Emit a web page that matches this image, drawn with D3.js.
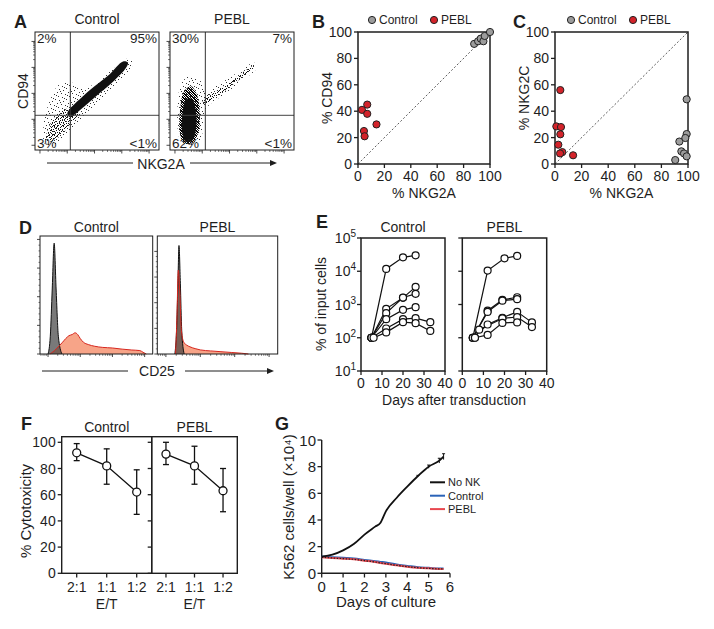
<!DOCTYPE html>
<html><head><meta charset="utf-8">
<script src="https://cdn.jsdelivr.net/npm/d3@7"></script>
<style>
body{margin:0;background:#fff}
svg{display:block}
text{font-family:"Liberation Sans",Arial,Helvetica,sans-serif;fill:#1e1e1e}
</style>
</head><body>
<svg id="fig" width="714" height="629"></svg>
<script>
// ================= DATA =================
const groups = ["Control", "PEBL"];
// Panel A: quadrant percentages (UL, UR, LL, LR)
const quadControl = ["2%", "95%", "3%", "<1%"];
const quadPEBL = ["30%", "7%", "62%", "<1%"];
const flowGate = [0.285, 0.294];               // gate thresholds (fraction of log channel)
// density outlines (fraction of log-channel range)
const flowCtrlHalo = [[0.08,0.05],[0.15,0.04],[0.24,0.1],[0.32,0.2],[0.42,0.32],[0.56,0.45],[0.7,0.6],[0.79,0.73],[0.76,0.78],[0.66,0.71],[0.52,0.6],[0.4,0.52],[0.3,0.57],[0.2,0.56],[0.12,0.42],[0.07,0.22]];
const flowCtrlMid = [[0.09,0.1],[0.14,0.07],[0.22,0.14],[0.3,0.24],[0.35,0.31],[0.3,0.36],[0.22,0.33],[0.14,0.25],[0.1,0.16]];
const flowCtrlCore = [[0.28,0.28],[0.4,0.37],[0.52,0.48],[0.64,0.59],[0.73,0.69],[0.75,0.74],[0.71,0.75],[0.6,0.64],[0.48,0.54],[0.38,0.45],[0.3,0.37],[0.26,0.31]];
const flowPeblHalo = [[0.07,0.12],[0.1,0.05],[0.18,0.04],[0.25,0.1],[0.27,0.25],[0.3,0.36],[0.45,0.48],[0.6,0.6],[0.7,0.7],[0.68,0.74],[0.55,0.66],[0.4,0.56],[0.28,0.5],[0.25,0.58],[0.16,0.63],[0.09,0.56],[0.06,0.35]];
const flowPeblMid = [[0.08,0.14],[0.11,0.06],[0.18,0.06],[0.23,0.15],[0.24,0.3],[0.22,0.46],[0.17,0.54],[0.11,0.49],[0.08,0.32]];
const flowPeblCore = [[0.1,0.14],[0.13,0.07],[0.18,0.08],[0.21,0.18],[0.21,0.32],[0.18,0.43],[0.13,0.43],[0.1,0.3]];
const flowPeblStream = [[0.27,0.39],[0.4,0.47],[0.54,0.58],[0.67,0.69],[0.68,0.72],[0.55,0.63],[0.41,0.52],[0.27,0.44]];
const flowDecades = [0.04, 0.26, 0.48, 0.70, 0.92];

// Panels B & C
const pctTicks = [0, 20, 40, 60, 80, 100];
const bControl = [[88,91],[91,93],[93,95],[95,93],[96,97],[100,100]];
const bPEBL = [[3,41],[7,45],[7,38],[4.5,25],[5,21],[14,30]];
const cControl = [[99,49],[93.5,17],[99,22.7],[98,19.7],[95,9.6],[97,8],[90.4,3],[99,5.8]];
const cPEBL = [[4,56],[1,28.5],[4.5,28],[4,22.5],[2.5,14.6],[5.5,9],[3.8,8],[13.6,6.6]];

// Panel D: histograms [log10 CD25, events]
const dLogTicks = [2, 3, 4, 5];
const dCtrlYMax = 412, dPeblYMax = 460, dCountTicks = [0, 100, 200, 300, 400];
const histCtrlIso = [[2.0,0],[2.07,62],[2.13,227],[2.19,387],[2.25,227],[2.32,62],[2.43,0]];
const histCtrlCD25 = [[2.06,0],[2.2,12],[2.35,29],[2.45,41],[2.55,54],[2.65,64],[2.75,68],[2.84,74],[2.92,68],[3.0,54],[3.1,41],[3.25,33],[3.45,27],[3.7,23],[4.0,21],[4.3,17],[4.6,14],[4.85,12],[4.95,6],[5.05,0]];
const histPeblIso = [[2.26,0],[2.31,92],[2.35,276],[2.38,423],[2.42,276],[2.46,92],[2.53,0]];
const histPeblCD25 = [[2.28,0],[2.32,138],[2.36,327],[2.4,253],[2.45,92],[2.52,46],[2.6,35],[2.7,28],[2.85,21],[3.0,16],[3.3,12],[3.6,9],[3.9,6],[4.2,3],[4.4,0]];

// Panel E: % of input cells vs days
const eDayTicks = [0, 10, 20, 30, 40];
const eExpTicks = [1, 2, 3, 4, 5];
const eControl = [
  [[5,100],[12,11750],[20,26300],[26,30200]],
  [[5,100],[12,740],[20,1585],[26,3390]],
  [[5,100],[12,550],[20,1620],[26,2090]],
  [[5,100],[12,363],[20,690],[26,830]],
  [[5,100],[12,190],[20,363],[26,389],[33,295]],
  [[6,100],[12,145],[20,295],[26,275],[33,160]]
];
const ePEBL = [
  [[5,100],[12,10500],[20,24500],[26,29000]],
  [[5,100],[12,650],[19,1380],[26,1650]],
  [[5,100],[12,600],[19,1300],[26,1450]],
  [[5,100],[12,250],[19,400],[26,600],[33,290]],
  [[6,100],[8,175],[19,380],[26,420],[33,210]],
  [[6,100],[12,122],[19,280],[26,290]]
];

// Panel F: cytotoxicity
const fRatios = ["2:1", "1:1", "1:2"];
const fCtrlMean = [92, 82, 62], fCtrlLo = [86, 68, 45], fCtrlHi = [99, 95, 79];
const fPeblMean = [91, 82, 63], fPeblLo = [83, 68, 47], fPeblHi = [100, 97, 80];
const fYTicks = [0, 20, 40, 60, 80, 100];

// Panel G: K562 growth
const gDays = [0,0.5,1,1.5,2,2.5,2.75,3,3.5,4,4.5,5,5.5,5.7];
const gNoNK = [1.25,1.4,1.72,2.2,2.9,3.5,3.8,4.65,5.65,6.5,7.3,8.0,8.45,8.75];
const gNoNKErr = [0,0,0,0,0,0,0,0,0,0,0.05,0.12,0.18,0.22];
const gControl = [1.25,1.2,1.15,1.1,1.0,0.9,0.85,0.8,0.65,0.55,0.45,0.4,0.35,0.35];
const gPEBL = [1.2,1.15,1.1,1.05,0.95,0.85,0.78,0.72,0.6,0.5,0.42,0.37,0.33,0.33];
const gXTicks = [0,1,2,3,4,5,6];
const gYTicks = [0,2,4,6,8,10];
const gLegend = ["No NK", "Control", "PEBL"];
const gColors = ["#111111", "#2a63b8", "#e8474f"];

// ================= DRAWING =================
const svg = d3.select("#fig");
svg.append("rect").attr("width", 714).attr("height", 629).attr("fill", "#fff");
const defs = svg.append("defs");
const INK = "#1e1e1e";

function txt(x, y, s, o = {}) {
  const t = svg.append("text").attr("x", x).attr("y", y).text(s)
    .attr("font-size", o.size || 14).attr("text-anchor", o.anchor || "start")
    .attr("font-weight", o.weight || "normal");
  if (o.rotate) t.attr("transform", `rotate(${o.rotate},${x},${y})`);
  return t;
}
function letter(x, y, s) { txt(x, y, s, { size: 18, weight: "bold" }); }
function seg(x1, y1, x2, y2, w = 1, c = INK, dash = null) {
  const l = svg.append("line").attr("x1", x1).attr("y1", y1).attr("x2", x2).attr("y2", y2)
    .attr("stroke", c).attr("stroke-width", w);
  if (dash) l.attr("stroke-dasharray", dash);
  return l;
}
function arrowLine(x1, x2, y) {
  seg(x1, y, x2 - 5, y, 1);
  svg.append("path").attr("d", `M${x2},${y}L${x2 - 7},${y - 3}L${x2 - 7},${y + 3}Z`).attr("fill", INK);
}
function pattern(id, size, dots, color) {
  const p = defs.append("pattern").attr("id", id).attr("patternUnits", "userSpaceOnUse")
    .attr("width", size).attr("height", size);
  dots.forEach(([x, y]) => p.append("rect").attr("x", x).attr("y", y).attr("width", 1).attr("height", 1).attr("fill", color));
}
// texture tiles (stippling style)
pattern("sparse", 11, [[0,0],[4,1],[8,2],[2,4],[6,5],[10,6],[3,8],[7,9],[9,10],[5,3],[1,7]], "#333");
pattern("medium", 9, [[0,0],[3,0],[6,1],[1,2],[4,2],[8,3],[2,4],[5,4],[7,5],[0,5],[3,6],[6,7],[1,7],[8,8],[4,8],[2,1],[7,0],[5,6],[0,8],[6,3]], "#111");
pattern("dense", 5, [[0,0],[1,0],[3,0],[1,1],[2,1],[4,1],[0,2],[2,2],[3,2],[1,3],[3,3],[4,3],[0,4],[2,4],[4,4]], "#000");

// ---------- Panel A ----------
letter(14, 28, "A");
function flowPanel(x0, title, layers, quads) {
  const W = 124, H = 118, y0 = 32;
  const xs = d3.scaleLinear([0, 1], [x0, x0 + W]);
  const ys = d3.scaleLinear([0, 1], [y0 + H, y0]);
  const cid = "clipA" + x0;
  defs.append("clipPath").attr("id", cid).append("rect").attr("x", x0).attr("y", y0).attr("width", W).attr("height", H);
  const g = svg.append("g").attr("clip-path", `url(#${cid})`);
  const line = d3.line().x(d => xs(d[0])).y(d => ys(d[1])).curve(d3.curveCatmullRomClosed.alpha(0.5));
  layers.forEach(([pts, fill]) => g.append("path").attr("d", line(pts)).attr("fill", fill));
  g.append("line").attr("x1", xs(flowGate[0])).attr("x2", xs(flowGate[0])).attr("y1", y0).attr("y2", y0 + H).attr("stroke", "#333").attr("stroke-width", 1);
  g.append("line").attr("y1", ys(flowGate[1])).attr("y2", ys(flowGate[1])).attr("x1", x0).attr("x2", x0 + W).attr("stroke", "#444").attr("stroke-width", 1);
  svg.append("rect").attr("x", x0).attr("y", y0).attr("width", W).attr("height", H).attr("fill", "none").attr("stroke", INK).attr("stroke-width", 1);
  flowDecades.forEach((p, i) => {
    seg(x0 - 3.5, ys(p), x0, ys(p), 0.8); seg(xs(p), y0 + H, xs(p), y0 + H + 3.5, 0.8);
    if (i < flowDecades.length - 1) {
      d3.range(2, 10).forEach(k => {
        const q = p + Math.log10(k) * 0.22;
        seg(x0 - 2, ys(q), x0, ys(q), 0.6); seg(xs(q), y0 + H, xs(q), y0 + H + 2, 0.6);
      });
    }
  });
  txt(x0 + W / 2, 24, title, { anchor: "middle" });
  txt(x0 + 2, 43, quads[0], { size: 13.5 });
  txt(x0 + W - 2, 43, quads[1], { size: 13.5, anchor: "end" });
  txt(x0 + 2, 148, quads[2], { size: 13.5 });
  txt(x0 + W - 2, 148, quads[3], { size: 13.5, anchor: "end" });
}
flowPanel(35, groups[0], [[flowCtrlHalo, "url(#sparse)"], [flowCtrlMid, "url(#medium)"], [flowCtrlCore, "#111"]], quadControl);
flowPanel(170, groups[1], [[flowPeblHalo, "url(#sparse)"], [flowPeblStream, "url(#medium)"], [flowPeblMid, "url(#dense)"], [flowPeblCore, "#111"]], quadPEBL);
txt(28, 91, "CD94", { rotate: -90, anchor: "middle" });
seg(47, 163, 133, 163, 1);
txt(161, 168.5, "NKG2A", { anchor: "middle" });
arrowLine(190, 277, 163);

// ---------- Panels B & C ----------
function scatterPanel(x0, x1, yLab, ctrl, pebl) {
  const xs = d3.scaleLinear([0, 100], [x0, x1]);
  const ys = d3.scaleLinear([0, 100], [164, 32]);
  const g = svg.append("g");
  g.append("line").attr("x1", xs(0)).attr("y1", ys(0)).attr("x2", xs(100)).attr("y2", ys(100))
    .attr("stroke", "#333").attr("stroke-width", 0.8).attr("stroke-dasharray", "2,2");
  g.append("rect").attr("x", x0).attr("y", 32).attr("width", x1 - x0).attr("height", 132)
    .attr("fill", "none").attr("stroke", INK).attr("stroke-width", 1.5);
  pctTicks.forEach(v => {
    seg(x0 - 4, ys(v), x0, ys(v), 1.3);
    seg(xs(v), 164, xs(v), 168, 1.3);
    txt(x0 - 6, ys(v) + 5, v, { anchor: "end" });
    txt(xs(v), 180.5, v, { anchor: "middle" });
  });
  const dots = (pts, fill) => g.selectAll(null).data(pts).enter().append("circle")
    .attr("cx", d => xs(d[0])).attr("cy", d => ys(d[1])).attr("r", 3.6)
    .attr("fill", fill).attr("stroke", "#222").attr("stroke-width", 1);
  dots(ctrl, "#9c9c9c");
  dots(pebl, "#d3232a");
  txt((x0 + x1) / 2, 197.5, "% NKG2A", { anchor: "middle" });
  txt(x0 - 26, 98, yLab, { rotate: -90, anchor: "middle" });
}
function scatterLegend(x) {
  svg.append("circle").attr("cx", x).attr("cy", 20).attr("r", 3.6).attr("fill", "#9c9c9c").attr("stroke", "#222");
  txt(x + 7, 24, groups[0], { size: 12 });
  svg.append("circle").attr("cx", x + 62).attr("cy", 20).attr("r", 3.6).attr("fill", "#d3232a").attr("stroke", "#222");
  txt(x + 69, 24, groups[1], { size: 12 });
}
letter(312, 28, "B");
scatterPanel(358, 490, "% CD94", bControl, bPEBL);
scatterLegend(372);
letter(513, 28, "C");
scatterPanel(555, 688, "% NKG2C", cControl, cPEBL);
scatterLegend(571);

// ---------- Panel D ----------
letter(19, 234, "D");
function histPanel(x0, x1, title, iso, cd25, yMax) {
  const y0 = 236, y1 = 354;
  const xs = d3.scaleLinear([1.75, 5.25], [x0, x1]);
  const ys = d3.scaleLinear([0, yMax], [y1, y0]);
  const area = d3.area().x(d => xs(d[0])).y0(y1).y1(d => ys(d[1])).curve(d3.curveMonotoneX);
  const line = d3.line().x(d => xs(d[0])).y(d => ys(d[1])).curve(d3.curveMonotoneX);
  svg.append("path").attr("d", area(cd25)).attr("fill", "#f7a488");
  svg.append("path").attr("d", area(iso)).attr("fill", "#404040").attr("fill-opacity", 0.7);
  svg.append("path").attr("d", line(iso)).attr("fill", "none").attr("stroke", "#111").attr("stroke-width", 1);
  svg.append("path").attr("d", line(cd25)).attr("fill", "none").attr("stroke", "#d7261e").attr("stroke-width", 1);
  svg.append("rect").attr("x", x0).attr("y", y0).attr("width", x1 - x0).attr("height", y1 - y0)
    .attr("fill", "none").attr("stroke", INK).attr("stroke-width", 1);
  dCountTicks.forEach((c, i) => {
    seg(x0 - 3, ys(c), x0, ys(c), 0.8);
    if (i < dCountTicks.length - 1) d3.range(1, 5).forEach(k => {
      const v = c + k * 20; seg(x0 - 1.5, ys(v), x0, ys(v), 0.6);
    });
  });
  dLogTicks.forEach(p => {
    seg(xs(p), y1, xs(p), y1 + 3, 0.8);
    d3.range(2, 10).forEach(k => {
      const q = p + Math.log10(k); if (q < 5.25) seg(xs(q), y1, xs(q), y1 + 1.8, 0.6);
    });
  });
  d3.range(2, 10).forEach(k => { const q = 1 + Math.log10(k); if (q > 1.75) seg(xs(q), y1, xs(q), y1 + 1.8, 0.6); });
  txt((x0 + x1) / 2, 231.5, title, { anchor: "middle" });
}
histPanel(40, 152.7, groups[0], histCtrlIso, histCtrlCD25, dCtrlYMax);
histPanel(157.3, 277.7, groups[1], histPeblIso, histPeblCD25, dPeblYMax);
seg(42, 371, 128, 371, 1);
txt(157, 376, "CD25", { anchor: "middle" });
arrowLine(185, 274, 371);

// ---------- Panel E ----------
letter(316, 228, "E");
function growthPanel(x0, x1, title, lines, showY) {
  const xs = d3.scaleLinear([0, 40], [x0, x1]);
  const ys = d3.scaleLog([10, 1e5], [371, 238]);
  svg.append("rect").attr("x", x0).attr("y", 238).attr("width", x1 - x0).attr("height", 133)
    .attr("fill", "none").attr("stroke", INK).attr("stroke-width", 1.5);
  eExpTicks.forEach(e => {
    const y = ys(Math.pow(10, e));
    seg(x0 - 4, y, x0, y, 1.3);
    if (showY) {
      const t = svg.append("text").attr("x", x0 - 5).attr("y", y + 5).attr("font-size", 14).attr("text-anchor", "end");
      t.append("tspan").text("10");
      t.append("tspan").attr("dy", -6).attr("font-size", 10).text(e);
    }
  });
  eDayTicks.forEach(d => {
    seg(xs(d), 371, xs(d), 375, 1.3);
    txt(xs(d), 388, d, { anchor: "middle" });
  });
  const line = d3.line().x(d => xs(d[0])).y(d => ys(d[1]));
  lines.forEach(l => svg.append("path").attr("d", line(l)).attr("fill", "none").attr("stroke", "#111").attr("stroke-width", 1.2));
  lines.forEach(l => svg.selectAll(null).data(l).enter().append("circle")
    .attr("cx", d => xs(d[0])).attr("cy", d => ys(d[1])).attr("r", 3.5)
    .attr("fill", "#fff").attr("stroke", "#111").attr("stroke-width", 1.2));
  txt((x0 + x1) / 2, 232, title, { anchor: "middle" });
}
growthPanel(361, 445, groups[0], eControl, true);
growthPanel(462.3, 546.7, groups[1], ePEBL, false);
txt(326, 304, "% of input cells", { rotate: -90, anchor: "middle" });
txt(454, 405, "Days after transduction", { anchor: "middle" });

// ---------- Panel F ----------
letter(21, 430, "F");
const fy = d3.scaleLinear([0, 100], [573.3, 442.3]);
function cytoPanel(x0, x1, title, mean, lo, hi, showY) {
  const xs = d3.scalePoint(fRatios, [x0, x1]).padding(0.5);
  svg.append("rect").attr("x", x0).attr("y", 436.7).attr("width", x1 - x0).attr("height", 573.3 - 436.7)
    .attr("fill", "none").attr("stroke", INK).attr("stroke-width", 1.4);
  fYTicks.forEach(v => {
    seg(x0 - 4, fy(v), x0, fy(v), 1.3);
    if (showY) txt(x0 - 6, fy(v) + 5, v, { anchor: "end" });
  });
  fRatios.forEach(r => {
    seg(xs(r), 573.3, xs(r), 577.5, 1.3);
    txt(xs(r), 592, r, { anchor: "middle" });
  });
  const line = d3.line().x((d, i) => xs(fRatios[i])).y(d => fy(d));
  svg.append("path").attr("d", line(mean)).attr("fill", "none").attr("stroke", "#111").attr("stroke-width", 1.3);
  fRatios.forEach((r, i) => {
    const x = xs(r);
    seg(x, fy(lo[i]), x, fy(hi[i]), 1.3, "#111");
    seg(x - 3, fy(lo[i]), x + 3, fy(lo[i]), 1.3, "#111");
    seg(x - 3, fy(hi[i]), x + 3, fy(hi[i]), 1.3, "#111");
  });
  svg.selectAll(null).data(mean).enter().append("circle")
    .attr("cx", (d, i) => xs(fRatios[i])).attr("cy", d => fy(d)).attr("r", 4)
    .attr("fill", "#fff").attr("stroke", "#111").attr("stroke-width", 1.3);
  txt((x0 + x1) / 2, 431.5, title, { anchor: "middle" });
  txt((x0 + x1) / 2, 609, "E/T", { anchor: "middle" });
}
cytoPanel(61.7, 151.7, groups[0], fCtrlMean, fCtrlLo, fCtrlHi, true);
cytoPanel(151.7, 237.3, groups[1], fPeblMean, fPeblLo, fPeblHi, false);
txt(31, 511, "% Cytotoxicity", { rotate: -90, anchor: "middle", size: 15 });

// ---------- Panel G ----------
letter(275, 430, "G");
const gx = d3.scaleLinear([0, 6], [321.7, 450]);
const gy = d3.scaleLinear([0, 10], [573.3, 440]);
seg(321.7, 440, 321.7, 573.3, 1.4);
seg(321.7, 573.3, 450, 573.3, 1.4);
gYTicks.forEach(v => { seg(317.5, gy(v), 321.7, gy(v), 1.3); txt(316, gy(v) + 5.5, v, { anchor: "end", size: 15 }); });
gXTicks.forEach(v => { seg(gx(v), 573.3, gx(v), 577.5, 1.3); txt(gx(v), 591.5, v, { anchor: "middle", size: 15 }); });
const gLine = vals => d3.line().x((d, i) => gx(gDays[i])).y(d => gy(d)).curve(d3.curveMonotoneX)(vals);
svg.append("path").attr("d", gLine(gControl)).attr("fill", "none").attr("stroke", gColors[1]).attr("stroke-width", 2.2);
svg.append("path").attr("d", gLine(gPEBL)).attr("fill", "none").attr("stroke", gColors[2]).attr("stroke-width", 2);
svg.append("path").attr("d", gLine(gPEBL)).attr("fill", "none").attr("stroke", "#222").attr("stroke-width", 1.2).attr("stroke-dasharray", "1.5,1.5");
svg.append("path").attr("d", gLine(gNoNK)).attr("fill", "none").attr("stroke", gColors[0]).attr("stroke-width", 1.8);
gNoNK.forEach((v, i) => {
  if (gNoNKErr[i] > 0) {
    const x = gx(gDays[i]);
    seg(x, gy(v - gNoNKErr[i]), x, gy(v + gNoNKErr[i]), 1, "#111");
    seg(x - 1.5, gy(v + gNoNKErr[i]), x + 1.5, gy(v + gNoNKErr[i]), 1, "#111");
  }
});
gLegend.forEach((s, i) => {
  const y = 482.3 + i * 13.4;
  seg(430, y, 445, y, 2, gColors[i]);
  txt(448, y + 4, s, { size: 11 });
});
txt(294, 507, "K562 cells/well (×10⁴)", { rotate: -90, anchor: "middle", size: 15 });
txt(386, 607, "Days of culture", { anchor: "middle", size: 15 });
</script>
</body></html>
